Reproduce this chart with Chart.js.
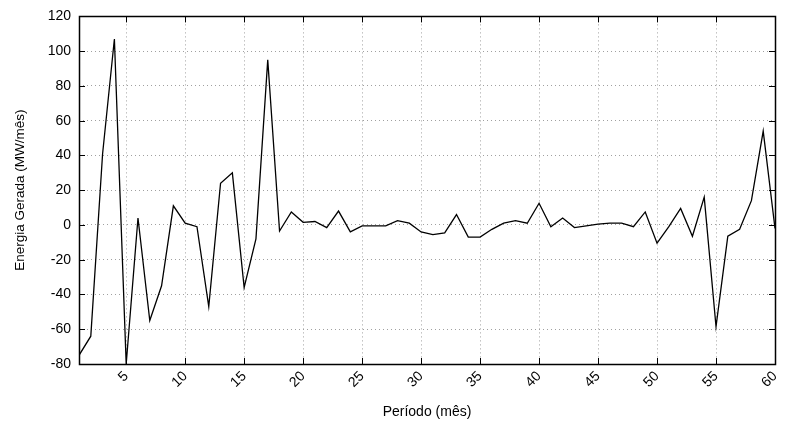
<!DOCTYPE html>
<html>
<head>
<meta charset="utf-8">
<script src="https://cdn.jsdelivr.net/npm/chart.js@4.4.1/dist/chart.umd.min.js"></script>
<style>
html,body{margin:0;padding:0;background:#fff;}
#wrap{width:785px;height:421px;position:relative;}
</style>
</head>
<body>
<div id="wrap"><canvas id="c" width="785" height="421"></canvas></div>
<script>
const periods = [1,2,3,4,5,6,7,8,9,10,11,12,13,14,15,16,17,18,19,20,21,22,23,24,25,26,27,28,29,30,31,32,33,34,35,36,37,38,39,40,41,42,43,44,45,46,47,48,49,50,51,52,53,54,55,56,57,58,59,60];
const energia = [-75,-64,41,107,-80,4,-55,-35,11,1,-1,-47,24,30,-36,-8,95,-3.5,7.5,1.5,2,-1.5,8,-4,-0.5,-0.5,-0.5,2.5,1,-4,-5.5,-4.5,6,-7,-7,-2.5,1,2.5,1,12.5,-1,4,-1.5,-0.5,0.5,1,1,-1,7.5,-10.5,-1,9.5,-6.5,16,-58.5,-6.5,-2.5,14,54,-2];
const xTicks = [5,10,15,20,25,30,35,40,45,50,55,60];
const yTicks = [-80,-60,-40,-20,0,20,40,60,80,100,120];
const xTitle = 'Período (mês)';
const yTitle = 'Energia Gerada (MW/mês)';

const FONT = 'Liberation Sans, Arial, Helvetica, sans-serif';

const boxPlugin = {
  id: 'boxPlugin',
  afterDraw(chart) {
    const ctx = chart.ctx;
    const a = chart.chartArea;
    const xs = chart.scales.x, ys = chart.scales.y;
    const L = 6;
    ctx.save();
    ctx.strokeStyle = '#000';
    ctx.lineWidth = 1;
    ctx.beginPath();
    xTicks.forEach(v => {
      const px = Math.round(xs.getPixelForValue(v)) + 0.5;
      ctx.moveTo(px, a.bottom); ctx.lineTo(px, a.bottom - L);
      ctx.moveTo(px, a.top); ctx.lineTo(px, a.top + L);
    });
    yTicks.forEach(v => {
      const py = Math.round(ys.getPixelForValue(v)) + 0.5;
      ctx.moveTo(a.left, py); ctx.lineTo(a.left + L, py);
      ctx.moveTo(a.right, py); ctx.lineTo(a.right - L, py);
    });
    ctx.stroke();
    ctx.lineWidth = 1.5;
    ctx.strokeRect(Math.round(a.left)+0.5, Math.round(a.top)+0.5, Math.round(a.right - a.left), Math.round(a.bottom - a.top));
    ctx.restore();
  }
};

new Chart(document.getElementById('c'), {
  type: 'line',
  data: {
    datasets: [{
      data: periods.map((p, i) => ({x: p, y: energia[i]})),
      borderColor: '#000',
      borderWidth: 1.3,
      pointRadius: 0,
      tension: 0,
      fill: false
    }]
  },
  options: {
    responsive: false,
    animation: false,
    devicePixelRatio: 1,
    layout: {padding: {left: 0, right: 10, top: 14, bottom: 0}},
    plugins: {legend: {display: false}, tooltip: {enabled: false}},
    scales: {
      x: {
        type: 'linear',
        min: 1, max: 60,
        afterBuildTicks: s => { s.ticks = xTicks.map(v => ({value: v})); },
        afterFit: s => { s.height = 57; s.paddingLeft = 0; s.paddingRight = 0; },
        grid: {color: '#a0a0a0', lineWidth: 1, drawTicks: false},
        border: {display: false, dash: [1, 3]},
        ticks: {
          minRotation: 45, maxRotation: 45, autoSkip: false,
          padding: 4,
          color: '#000',
          font: {family: FONT, size: 14}
        },
        title: {
          display: true, text: xTitle, color: '#000',
          font: {family: FONT, size: 14},
          padding: {top: 0, bottom: 0}
        }
      },
      y: {
        min: -80, max: 120,
        afterBuildTicks: s => { s.ticks = yTicks.map(v => ({value: v})); },
        afterFit: s => { s.width = 79; },
        grid: {color: '#a0a0a0', lineWidth: 1, drawTicks: false},
        border: {display: false, dash: [1, 3]},
        ticks: {
          padding: 8,
          color: '#000',
          font: {family: FONT, size: 14}
        },
        title: {
          display: true, text: yTitle, color: '#000',
          font: {family: FONT, size: 13.5},
          padding: {top: 12, bottom: 0}
        }
      }
    }
  },
  plugins: [boxPlugin]
});
</script>
</body>
</html>
